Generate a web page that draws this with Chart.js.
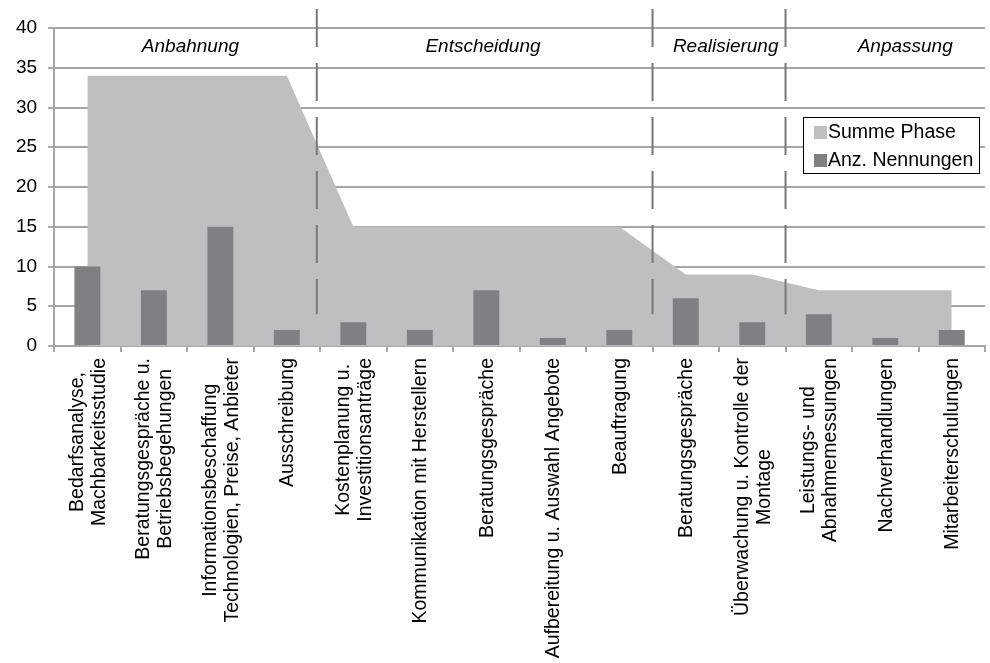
<!DOCTYPE html>
<html>
<head>
<meta charset="utf-8">
<script src="https://cdn.jsdelivr.net/npm/chart.js@4/dist/chart.umd.min.js"></script>
<style>
  body { margin: 0; background: #fff; }
</style>
</head>
<body>
<canvas id="chart" width="990" height="663"></canvas>
<script>
// Kategorien (Tätigkeiten je Phase)
const taetigkeiten = [
    ["Bedarfsanalyse,", "Machbarkeitsstudie"],
    ["Beratungsgespräche u.", "Betriebsbegehungen"],
    ["Informationsbeschaffung", "Technologien, Preise, Anbieter"],
    ["Ausschreibung"],
    ["Kostenplanung u.", "Investitionsanträge"],
    ["Kommunikation mit Herstellern"],
    ["Beratungsgespräche"],
    ["Aufbereitung u. Auswahl Angebote"],
    ["Beauftragung"],
    ["Beratungsgespräche"],
    ["Überwachung u. Kontrolle der", "Montage"],
    ["Leistungs- und", "Abnahmemessungen"],
    ["Nachverhandlungen"],
    ["Mitarbeiterschulungen"]
];

const anzNennungen = [10, 7, 15, 2, 3, 2, 7, 1, 2, 6, 3, 4, 1, 2];
const summePhase = [34, 34, 34, 34, 15, 15, 15, 15, 15, 9, 9, 7, 7, 7];

const yTicks = [0, 5, 10, 15, 20, 25, 30, 35, 40];

// Phasen: Name, Position des Titels, Trennlinien (in Kategorie-Einheiten)
const phasen = ["Anbahnung", "Entscheidung", "Realisierung", "Anpassung"];
const phasenTitelPos = [1.55, 5.95, 9.6, 12.3];
const phasenGrenzen = [3.45, 8.5, 10.5];

const FONT = "Arial, 'Liberation Sans', sans-serif";
const GRID = '#a6a6a6';

const phasenPlugin = {
    id: 'phasen',
    afterDatasetsDraw(chart) {
        const ctx = chart.ctx;
        const x = chart.scales.x;
        const y = chart.scales.y;
        ctx.save();
        // gestrichelte Trennlinien
        ctx.strokeStyle = '#787878';
        ctx.lineWidth = 2;
        ctx.setLineDash([38, 16]);
        phasenGrenzen.forEach(g => {
            const px = x.getPixelForValue(g);
            ctx.beginPath();
            ctx.moveTo(px, 9);
            ctx.lineTo(px, y.getPixelForValue(4));
            ctx.stroke();
        });
        ctx.setLineDash([]);
        // Phasentitel
        ctx.fillStyle = '#000';
        ctx.font = 'italic 19px ' + FONT;
        ctx.textAlign = 'center';
        ctx.textBaseline = 'middle';
        phasen.forEach((p, i) => {
            ctx.fillText(p, x.getPixelForValue(phasenTitelPos[i]), y.getPixelForValue(37.7));
        });
        ctx.restore();
    },
    afterDraw(chart) {
        const ctx = chart.ctx;
        const x = chart.scales.x;
        const area = chart.chartArea;
        ctx.save();
        // Achsenbeschriftung, gedreht und zentriert
        ctx.font = '19.5px ' + FONT;
        ctx.fillStyle = '#000';
        ctx.textAlign = 'center';
        ctx.textBaseline = 'middle';
        const lineH = 22;
        chart.data.labels.forEach((lines, i) => {
            const maxW = Math.max(...lines.map(l => ctx.measureText(l).width));
            const px = x.getPixelForValue(i) + 1;
            const top = area.bottom + 12;
            ctx.save();
            ctx.translate(px, top + maxW / 2);
            ctx.rotate(-Math.PI / 2);
            lines.forEach((l, j) => {
                ctx.fillText(l, 0, (j - (lines.length - 1) / 2) * lineH);
            });
            ctx.restore();
        });
        // Legende mit Rahmen
        ctx.font = '19.5px ' + FONT;
        const boxW = 176, boxH = 56;
        const bx = area.right - 6 - boxW;
        const by = 117;
        ctx.fillStyle = '#fff';
        ctx.fillRect(bx, by, boxW, boxH);
        ctx.strokeStyle = '#000';
        ctx.lineWidth = 1;
        ctx.strokeRect(bx + 0.5, by + 0.5, boxW, boxH);
        ctx.textAlign = 'left';
        const items = [...chart.data.datasets].reverse();
        items.forEach((ds, k) => {
            const cy = by + 15 + k * 28;
            ctx.fillStyle = ds.backgroundColor;
            ctx.fillRect(bx + 11, cy - 6, 13, 13);
            ctx.fillStyle = '#000';
            ctx.fillText(ds.label, bx + 25, cy + 1);
        });
        ctx.restore();
    }
};

new Chart(document.getElementById('chart').getContext('2d'), {
    type: 'bar',
    data: {
        labels: taetigkeiten,
        datasets: [
            {
                type: 'bar',
                label: 'Anz. Nennungen',
                data: anzNennungen,
                backgroundColor: '#7f8084',
                barPercentage: 0.39,
                categoryPercentage: 1,
                order: 1
            },
            {
                type: 'line',
                label: 'Summe Phase',
                data: summePhase,
                backgroundColor: '#bebfc1',
                borderWidth: 0,
                pointRadius: 0,
                tension: 0,
                fill: 'origin',
                order: 2
            }
        ]
    },
    options: {
        responsive: false,
        animation: false,
        layout: { padding: { left: 5, top: 28, right: 5, bottom: 311 } },
        plugins: {
            legend: { display: false },
            tooltip: { enabled: false }
        },
        scales: {
            x: {
                offset: true,
                grid: {
                    offset: true,
                    drawOnChartArea: false,
                    color: GRID,
                    lineWidth: 2,
                    tickLength: 6
                },
                border: { color: GRID, width: 2 },
                ticks: { display: false }
            },
            y: {
                min: 0,
                max: 40,
                afterBuildTicks: axis => { axis.ticks = yTicks.map(v => ({ value: v })); },
                grid: { color: GRID, lineWidth: 2, tickLength: 6 },
                border: { color: GRID, width: 2 },
                ticks: {
                    color: '#000',
                    padding: 11,
                    font: { family: FONT, size: 19 }
                }
            }
        }
    },
    plugins: [phasenPlugin]
});
</script>
</body>
</html>
